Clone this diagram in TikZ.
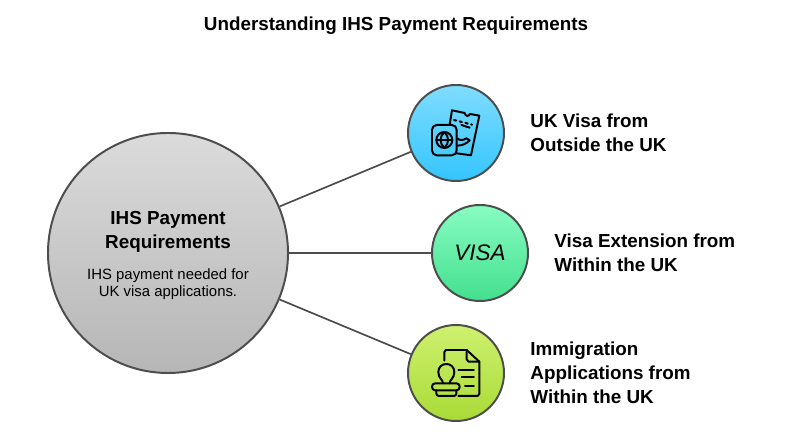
\documentclass[tikz,border=0pt]{standalone}
\usepackage{fontspec}
\setmainfont{Liberation Sans}
\usetikzlibrary{positioning}

\definecolor{linegray}{HTML}{4D4D4D}
\definecolor{graytop}{HTML}{DBDBDB}
\definecolor{graybot}{HTML}{B6B6B6}
\definecolor{bluetop}{HTML}{7FDDFF}
\definecolor{bluebot}{HTML}{35C5FD}
\definecolor{greentop}{HTML}{88FDC2}
\definecolor{greenbot}{HTML}{43DF8E}
\definecolor{limetop}{HTML}{CFF16F}
\definecolor{limebot}{HTML}{A8DB36}
\newcommand{\headfont}{\fontsize{13.4}{17}\selectfont\bfseries}
\newcommand{\notefont}{\fontsize{10.6}{12.5}\selectfont}
\tikzset{
  bigball/.style={circle, draw=linegray, line width=1.4pt, minimum size=6cm, inner sep=0pt, align=center},
  ball/.style={circle, draw=linegray, line width=1.4pt, minimum size=2.4cm, inner sep=0pt},
  link/.style={draw=linegray, line width=1.2pt},
  caption/.style={inner sep=0pt, align=left, font=\headfont},
  icon/.style={line width=1.4pt, line cap=round, line join=round},
}

\begin{document}
\begin{tikzpicture}
  \useasboundingbox (0,0) rectangle (19.8,10.8);

  % Titolo
  \node[inner sep=0pt, font=\headfont] (title) at (9.9,10.15) {Understanding IHS Payment Requirements};

  % Cerchio grande
  \node[bigball, top color=graytop, bottom color=graybot] (main) at (4.2,4.475)
    {\rule{0pt}{13pt}\headfont IHS Payment\\[4pt] \headfont Requirements\\[9.5pt]
     \notefont IHS payment needed for\\[0.5pt] \notefont UK visa applications.};

  % Cerchi piccoli
  \node[ball, top color=bluetop, bottom color=bluebot] (outside) at (11.4,7.475) {};
  \node[ball, top color=greentop, bottom color=greenbot] (extension) at (12,4.475)
    {\fontsize{16}{20}\selectfont\itshape VISA};
  \node[ball, top color=limetop, bottom color=limebot] (immigration) at (11.4,1.475) {};

  % Etichette
  \node[caption, right=0.63cm of outside] (outsidetext) {UK Visa from\\ Outside the UK};
  \node[caption, right=0.63cm of extension] (extensiontext) {Visa Extension from\\ Within the UK};
  \node[caption, right=0.63cm of immigration] (immigrationtext) {Immigration\\ Applications from\\ Within the UK};

  % Collegamenti
  \draw[link] (main) -- (outside);
  \draw[link] (main) -- (extension);
  \draw[link] (main) -- (immigration);

  % Icona passaporto
  \begin{scope}[shift={(10cm,8.925cm)}, x=0.00833cm, y=-0.00833cm, icon]
    \draw[rounded corners=1.2mm] (96,150) rectangle (170,241);
    \draw (133,195) circle (24);
    \draw (133,171) .. controls (118,185) and (118,205) .. (133,219);
    \draw (133,171) .. controls (148,185) and (148,205) .. (133,219);
    \draw (109,195) -- (157,195);
    \draw (149,148) -- (156,106) -- (194,114) .. controls (196,124) and (206,126) .. (210,117) -- (238,122) -- (213,241) -- (170,235);
    \draw[dash pattern=on 1.6pt off 2.6pt, line width=1.5pt] (162,135) -- (216,149);
    \draw (184,150) -- (209,158);
    \draw (172,190) .. controls (180,198) and (190,196) .. (199,190) -- (209,196) .. controls (200,206) and (186,212) .. (172,212);
  \end{scope}

  % Icona documento e timbro
  \begin{scope}[shift={(10cm,2.8cm)}, x=0.00833cm, y=-0.00833cm, icon]
    \draw (133,122) -- (133,96) -- ++(5,-6) -- (200,90) -- (238,125) -- (238,222) -- ++(-5,6) -- (175,228);
    \draw (200,90) -- (200,118) -- ++(6,7) -- (238,125);
    \draw (175,150) -- (222,150);
    \draw (185,172) -- (222,172);
    \draw (195,197) -- (222,197);
    \draw (129,190) .. controls (129,178) and (115,176) .. (115,156) .. controls (115,141) and (126,132) .. (139,132) .. controls (152,132) and (163,141) .. (163,156) .. controls (163,176) and (149,178) .. (149,190);
    \draw[rounded corners=0.8mm] (96,190) rectangle (179,211);
    \draw[rounded corners=0.6mm] (109,211) -- (109,228) -- (169,228) -- (169,211);
  \end{scope}
\end{tikzpicture}
\end{document}
